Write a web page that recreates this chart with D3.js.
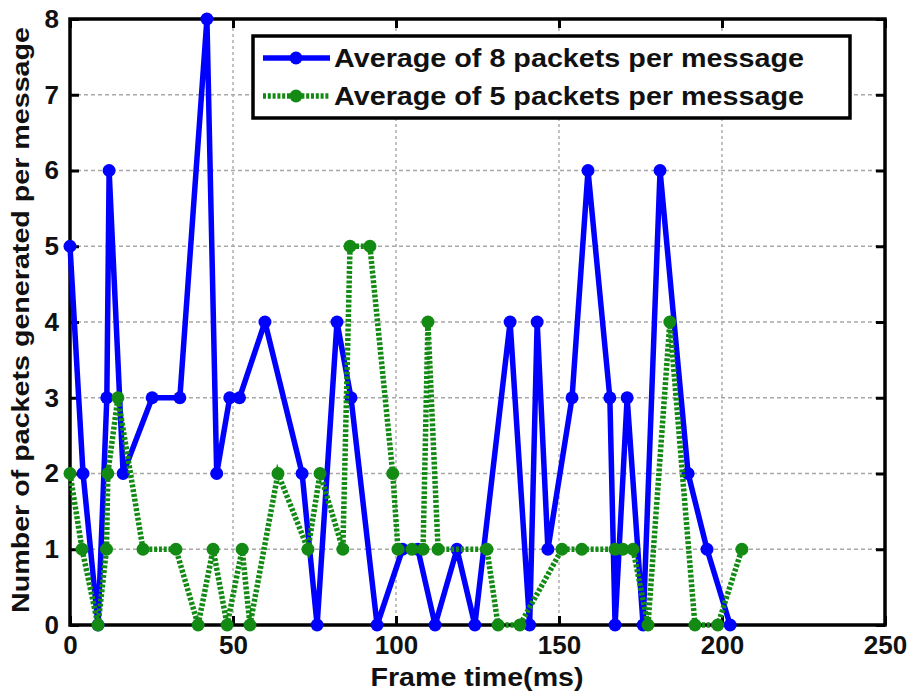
<!DOCTYPE html>
<html lang="en">
<head>
    <meta charset="UTF-8">
    <title>Packets generated per message</title>
    <script src="https://d3js.org/d3.v7.min.js"></script>
    <style>
        body { margin: 0; background: #fff; font-family: "Liberation Sans", Arial, sans-serif; }
        text { font-weight: bold; fill: #111; }
    </style>
</head>
<body>
    <svg id="chart" width="913" height="693"></svg>

    <script>
        // series 1: average of 8 packets per message
        const time8 = [0, 4, 8.6, 11.3, 12, 16.3, 25.2, 33.7, 42, 45, 49, 52, 59.8, 71.2, 75.8, 81.9, 86.2, 94.2,
                       102, 106.7, 112, 118.7, 124.2, 135, 141, 143.3, 146.6, 154, 158.9, 165.6, 167.2, 170.9,
                       175.8, 181, 189.6, 195.4, 202.5];
        const packets8 = [5, 2, 0, 3, 6, 2, 3, 3, 8, 2, 3, 3, 4, 2, 0, 4, 3, 0,
                          1, 1, 0, 1, 0, 4, 0, 4, 1, 3, 6, 3, 0, 3,
                          0, 6, 2, 1, 0];
        // series 2: average of 5 packets per message
        const time5 = [0, 3.7, 8.6, 11.2, 11.6, 14.7, 22.4, 32.5, 39.3, 43.9, 48.2, 52.8, 55.2, 63.8, 73, 76.7,
                       83.7, 85.9, 92, 99, 100.6, 104.9, 108.3, 109.8, 112.9, 127.9, 131.3, 138, 150.9, 157,
                       167.2, 169.6, 172.7, 177.3, 184, 191.7, 198.7, 206.1];
        const packets5 = [2, 1, 0, 1, 2, 3, 1, 1, 0, 1, 0, 1, 0, 2, 1, 2,
                          1, 5, 5, 2, 1, 1, 1, 4, 1, 1, 0, 0, 1, 1,
                          1, 1, 1, 0, 4, 0, 0, 1];
        const xTicks = [0, 50, 100, 150, 200, 250];
        const yTicks = [0, 1, 2, 3, 4, 5, 6, 7, 8];
        const seriesNames = ["Average of 8 packets per message", "Average of 5 packets per message"];

        const svg = d3.select("#chart");
        const margin = { top: 19, right: 28, bottom: 68, left: 70 };
        const width = 913, height = 693;

        const x = d3.scaleLinear().domain([0, 250]).range([margin.left, width - margin.right]);
        const y = d3.scaleLinear().domain([0, 8]).range([height - margin.bottom, margin.top]);

        // grid
        const grid = svg.append("g");
        grid.selectAll(".gx").data(xTicks.slice(1, -1)).enter().append("line")
            .attr("x1", d => x(d)).attr("x2", d => x(d))
            .attr("y1", y(0)).attr("y2", y(8))
            .attr("stroke", "#a8a8a8").attr("stroke-width", 1.4).attr("stroke-dasharray", "3,3");
        grid.selectAll(".gy").data(yTicks.slice(1, -1)).enter().append("line")
            .attr("x1", x(0)).attr("x2", x(250))
            .attr("y1", d => y(d)).attr("y2", d => y(d))
            .attr("stroke", "#a8a8a8").attr("stroke-width", 1.4).attr("stroke-dasharray", "4,3");

        // axes, ticks pointing inward like matlab
        const axisStyle = g => {
            g.select(".domain").remove();
            g.selectAll(".tick line").attr("stroke", "#000").attr("stroke-width", 3);
            g.selectAll("text").style("font-size", "26px").attr("fill", "#111");
        };
        svg.append("g").attr("transform", `translate(0,${y(0)})`)
            .call(d3.axisBottom(x).tickValues(xTicks).tickSize(-9).tickPadding(11))
            .call(axisStyle);
        svg.append("g").attr("transform", `translate(0,${y(8)})`)
            .call(d3.axisTop(x).tickValues(xTicks).tickSize(-9).tickFormat(""))
            .call(axisStyle);
        svg.append("g").attr("transform", `translate(${x(0)},0)`)
            .call(d3.axisLeft(y).tickValues(yTicks).tickSize(-9).tickPadding(11))
            .call(axisStyle);
        svg.append("g").attr("transform", `translate(${x(250)},0)`)
            .call(d3.axisRight(y).tickValues(yTicks).tickSize(-9).tickFormat(""))
            .call(axisStyle);

        svg.append("rect")
            .attr("x", x(0)).attr("y", y(8))
            .attr("width", x(250) - x(0)).attr("height", y(0) - y(8))
            .attr("fill", "none").attr("stroke", "#000").attr("stroke-width", 3.5);

        const line = d3.line().x(d => x(d[0])).y(d => y(d[1]));
        const blue = "#0000ff", green = "#138a13";

        const data8 = time8.map((t, i) => [t, packets8[i]]);
        const data5 = time5.map((t, i) => [t, packets5[i]]);

        svg.append("path").datum(data8).attr("d", line)
            .attr("fill", "none").attr("stroke", blue).attr("stroke-width", 5.5)
            .attr("stroke-linejoin", "round");
        svg.selectAll(".m8").data(data8).enter().append("circle")
            .attr("cx", d => x(d[0])).attr("cy", d => y(d[1])).attr("r", 6.5).attr("fill", blue);

        svg.append("path").datum(data5).attr("d", line)
            .attr("fill", "none").attr("stroke", green).attr("stroke-width", 5.5)
            .attr("stroke-dasharray", "3,1.8");
        svg.selectAll(".m5").data(data5).enter().append("circle")
            .attr("cx", d => x(d[0])).attr("cy", d => y(d[1])).attr("r", 6.5).attr("fill", green);

        // axis titles
        svg.append("text")
            .attr("x", 477).attr("y", 686)
            .attr("text-anchor", "middle").style("font-size", "25px")
            .attr("textLength", 213).attr("lengthAdjust", "spacingAndGlyphs")
            .text("Frame time(ms)");
        svg.append("text")
            .attr("transform", `translate(29,${(y(0) + y(8)) / 2 - 2}) rotate(-90)`)
            .attr("text-anchor", "middle").style("font-size", "24px")
            .attr("textLength", 586).attr("lengthAdjust", "spacingAndGlyphs")
            .text("Number of packets generated per message");

        // legend
        const legend = svg.append("g");
        legend.append("rect")
            .attr("x", 253).attr("y", 36).attr("width", 597).attr("height", 82)
            .attr("fill", "#fff").attr("stroke", "#000").attr("stroke-width", 3.5);
        const rows = [
            { name: seriesNames[0], color: blue, dash: null, yy: 58 },
            { name: seriesNames[1], color: green, dash: "3,1.8", yy: 96 }
        ];
        rows.forEach(r => {
            legend.append("line")
                .attr("x1", 263).attr("x2", 330).attr("y1", r.yy).attr("y2", r.yy)
                .attr("stroke", r.color).attr("stroke-width", 5.5)
                .attr("stroke-dasharray", r.dash);
            legend.append("circle").attr("cx", 296).attr("cy", r.yy).attr("r", 6.5).attr("fill", r.color);
            legend.append("text")
                .attr("x", 334).attr("y", r.yy + 8.5)
                .style("font-size", "25px")
                .attr("textLength", 470).attr("lengthAdjust", "spacingAndGlyphs")
                .text(r.name);
        });
    </script>
</body>
</html>
